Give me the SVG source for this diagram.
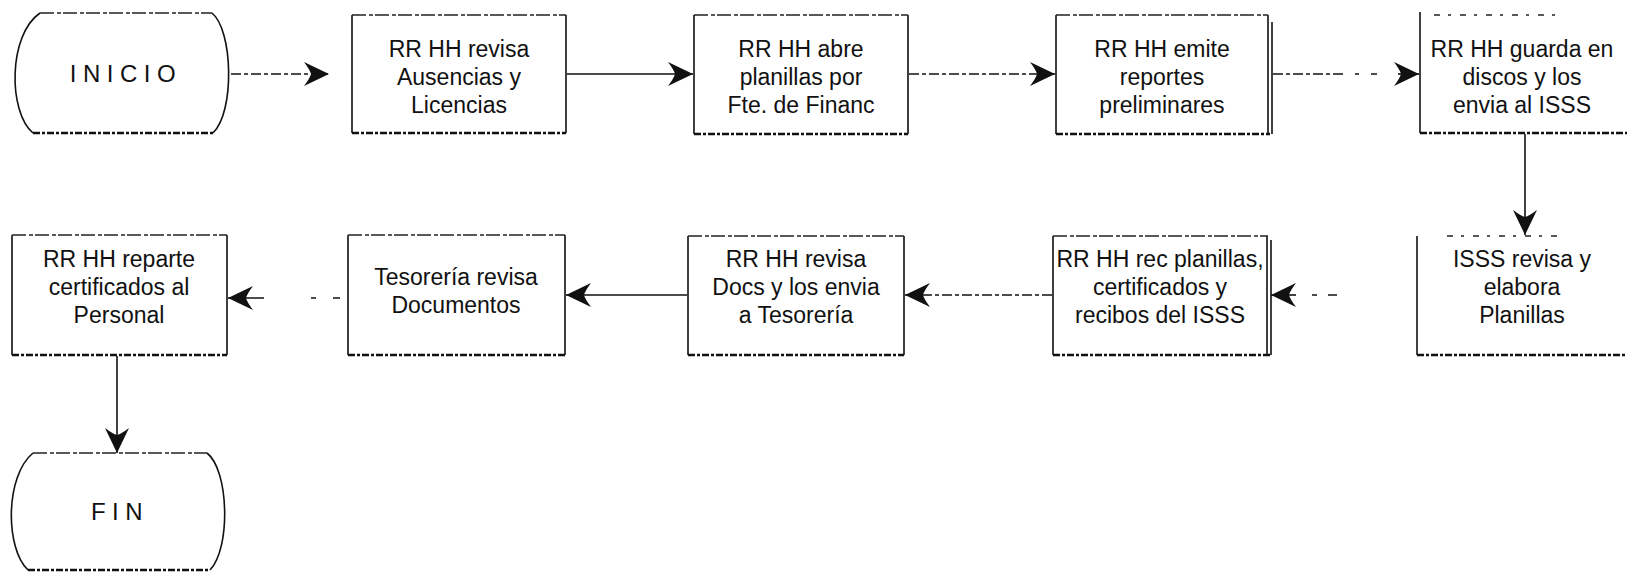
<svg xmlns="http://www.w3.org/2000/svg" width="1627" height="574" viewBox="0 0 1627 574">
  <style>
    .bg { fill: #ffffff; }
    .side { stroke: #111; stroke-width: 1.6; fill: none; }
    .top { stroke: #222; stroke-width: 1.4; stroke-dasharray: 14 3 4 2; fill: none; }
    .topfaint { stroke: #222; stroke-width: 1.4; stroke-dasharray: 6 8 3 9; fill: none; }
    .bot { stroke: #111; stroke-width: 2.6; stroke-dasharray: 7 2 3 2; fill: none; }
    .term { stroke: #111; stroke-width: 1.6; fill: none; }
    .txt { font-family: "Liberation Sans", Arial, sans-serif; font-size: 23px; fill: #111; text-anchor: middle; }
    .ttl { font-family: "Liberation Sans", Arial, sans-serif; font-size: 24px; fill: #111; text-anchor: middle; letter-spacing: 6.5px; }
    .solid { stroke: #111; stroke-width: 1.6; fill: none; }
    .dash { stroke: #111; stroke-width: 1.5; fill: none; stroke-dasharray: 10 3 4 3; }
  </style>
  <defs>
    <marker id="head" markerUnits="userSpaceOnUse" markerWidth="28" markerHeight="28" viewBox="-27 -14 28 28" refX="0" refY="0" orient="auto">
      <path d="M0,0 L-25,-12 Q-19,-4 -18,0 Q-19,4 -25,12 Z" fill="#111"/>
    </marker>
  </defs>
  <rect class="bg" x="0" y="0" width="1627" height="574"/>

  <!-- start terminal -->
  <g id="inicio">
    <path class="top" d="M40,13 L212,13"/>
    <path class="term" d="M212,13 C233,30 235,112 213,133"/>
    <path class="term" d="M40,13 C8,35 8,112 33,133"/>
    <path class="bot" d="M33,133 L213,133"/>
    <text class="ttl" x="126" y="82">INICIO</text>
  </g>

  <!-- top row -->
  <g id="n1">
    <path class="side" d="M352,15 V133 M566,15 V133"/>
    <path class="top" d="M352,15 H566"/>
    <path class="bot" d="M352,133 H566"/>
    <text class="txt" x="459" y="57">RR HH revisa</text>
    <text class="txt" x="459" y="85">Ausencias y</text>
    <text class="txt" x="459" y="113">Licencias</text>
  </g>
  <g id="n2">
    <path class="side" d="M694,15 V134 M908,15 V134"/>
    <path class="top" d="M694,15 H908"/>
    <path class="bot" d="M694,134 H908"/>
    <text class="txt" x="801" y="57">RR HH abre</text>
    <text class="txt" x="801" y="85">planillas por</text>
    <text class="txt" x="801" y="113">Fte. de Financ</text>
  </g>
  <g id="n3">
    <path class="side" d="M1056,15 V134 M1268,15 V134 M1272,22 V134"/>
    <path class="top" d="M1056,15 H1268"/>
    <path class="bot" d="M1056,134 H1270"/>
    <text class="txt" x="1162" y="57">RR HH emite</text>
    <text class="txt" x="1162" y="85">reportes</text>
    <text class="txt" x="1162" y="113">preliminares</text>
  </g>
  <g id="n4">
    <path class="side" d="M1420,12 V133"/>
    <path class="topfaint" d="M1434,15 H1560"/>
    <path class="bot" d="M1420,133 H1627"/>
    <text class="txt" x="1522" y="57">RR HH guarda en</text>
    <text class="txt" x="1522" y="85">discos y los</text>
    <text class="txt" x="1522" y="113">envia al ISSS</text>
  </g>

  <!-- bottom row -->
  <g id="n5">
    <path class="side" d="M1417,236 V355"/>
    <path class="topfaint" d="M1447,236 H1560"/>
    <path class="bot" d="M1417,355 H1627"/>
    <text class="txt" x="1522" y="267">ISSS revisa y</text>
    <text class="txt" x="1522" y="295">elabora</text>
    <text class="txt" x="1522" y="323">Planillas</text>
  </g>
  <g id="n6">
    <path class="side" d="M1053,236 V355 M1267,236 V355 M1271,240 V355"/>
    <path class="top" d="M1053,236 H1268"/>
    <path class="bot" d="M1053,355 H1270"/>
    <text class="txt" x="1160" y="267">RR HH rec planillas,</text>
    <text class="txt" x="1160" y="295">certificados y</text>
    <text class="txt" x="1160" y="323">recibos del ISSS</text>
  </g>
  <g id="n7">
    <path class="side" d="M688,236 V355 M904,236 V355"/>
    <path class="top" d="M688,236 H904"/>
    <path class="bot" d="M688,355 H904"/>
    <text class="txt" x="796" y="267">RR HH revisa</text>
    <text class="txt" x="796" y="295">Docs y los envia</text>
    <text class="txt" x="796" y="323">a Tesorería</text>
  </g>
  <g id="n8">
    <path class="side" d="M348,235 V355 M565,235 V355"/>
    <path class="top" d="M348,235 H565"/>
    <path class="bot" d="M348,355 H565"/>
    <text class="txt" x="456" y="285">Tesorería revisa</text>
    <text class="txt" x="456" y="313">Documentos</text>
  </g>
  <g id="n9">
    <path class="side" d="M12,235 V355 M227,235 V355"/>
    <path class="top" d="M12,235 H227"/>
    <path class="bot" d="M12,355 H227"/>
    <text class="txt" x="119" y="267">RR HH reparte</text>
    <text class="txt" x="119" y="295">certificados  al</text>
    <text class="txt" x="119" y="323">Personal</text>
  </g>

  <!-- end terminal -->
  <g id="fin">
    <path class="top" d="M33,453 L207,453"/>
    <path class="term" d="M207,453 C229,470 231,548 210,570"/>
    <path class="term" d="M33,453 C5,476 5,548 28,570"/>
    <path class="bot" d="M28,570 L210,570"/>
    <text class="ttl" x="120" y="520">FIN</text>
  </g>

  <!-- connectors -->
  <g id="connectors">
    <path class="dash" d="M231,74 H329" marker-end="url(#head)"/>
    <path class="solid" d="M567,74 H693" marker-end="url(#head)"/>
    <path class="dash" d="M909,74 H1055" marker-end="url(#head)"/>
    <path class="dash" d="M1273,74 H1345"/>
    <path class="solid" d="M1355,74 H1359 M1371,74 H1377"/>
    <path class="solid" d="M1398,74 H1419" marker-end="url(#head)"/>
    <path class="solid" d="M1525,134 V235" marker-end="url(#head)"/>
    <path class="solid" d="M1312,295 H1317 M1328,295 H1337"/>
    <path class="solid" d="M1296,295 H1271" marker-end="url(#head)"/>
    <path class="dash" d="M1052,295 H905" marker-end="url(#head)"/>
    <path class="solid" d="M687,295 H566" marker-end="url(#head)"/>
    <path class="solid" d="M311,298 H316 M333,298 H340"/>
    <path class="solid" d="M264,298 H228" marker-end="url(#head)"/>
    <path class="solid" d="M117,356 V453" marker-end="url(#head)"/>
  </g>
</svg>
